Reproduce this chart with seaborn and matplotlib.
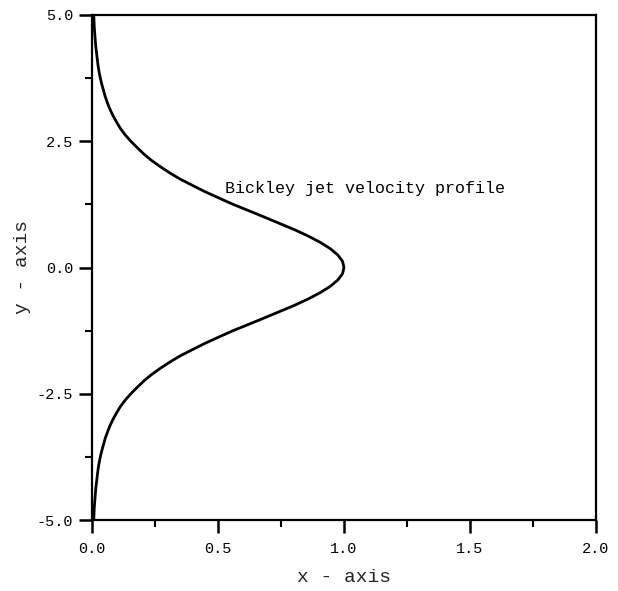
import matplotlib
matplotlib.use("Agg")
import matplotlib.pyplot as plt
from matplotlib.ticker import MultipleLocator, FormatStrFormatter
import seaborn as sns
import pandas as pd

# Values (upper half, y >= 0)
y_upper = [0.0, 0.125, 0.25, 0.375, 0.5, 0.625, 0.75, 0.875, 1.0, 1.125,
           1.25, 1.375, 1.5, 1.625, 1.75, 1.875, 2.0, 2.125, 2.25, 2.375,
           2.5, 2.625, 2.75, 2.875, 3.0, 3.125, 3.25, 3.375, 3.5, 3.625,
           3.75, 3.875, 4.0, 4.125, 4.25, 4.375, 4.5, 4.625, 4.75, 4.875, 5.0]
x_upper = [1.000, 0.994, 0.975, 0.945, 0.905, 0.857, 0.803, 0.743, 0.683, 0.622,
           0.560, 0.504, 0.449, 0.399, 0.350, 0.308, 0.270, 0.235, 0.205, 0.179,
           0.154, 0.132, 0.113, 0.098, 0.084, 0.072, 0.062, 0.053, 0.046, 0.039,
           0.033, 0.028, 0.024, 0.021, 0.018, 0.015, 0.013, 0.011, 0.009, 0.008, 0.007]
# Lower half (y <= 0), read the same way
y_lower = [-v for v in y_upper[::-1]]
x_lower = x_upper[::-1]

annotation = "Bickley jet velocity profile"
x_label = "x - axis"
y_label = "y - axis"

df = pd.DataFrame({"x": x_lower + x_upper[1:], "y": y_lower + y_upper[1:]})

sns.set_style("ticks")
plt.rcParams["font.family"] = ["Liberation Mono", "DejaVu Sans Mono"]

fig = plt.figure(figsize=(6.18, 5.91), dpi=100)
ax = fig.add_axes([92/618, 1-520/591, (596-92)/618, (520-15)/591])

sns.lineplot(data=df, x="x", y="y", sort=False, estimator=None,
             color="black", linewidth=2.0, ax=ax)

ax.set_xlim(0, 2.0)
ax.set_ylim(-5, 5)
ax.xaxis.set_major_locator(MultipleLocator(0.5))
ax.xaxis.set_minor_locator(MultipleLocator(0.25))
ax.yaxis.set_major_locator(MultipleLocator(2.5))
ax.yaxis.set_minor_locator(MultipleLocator(1.25))
ax.xaxis.set_major_formatter(FormatStrFormatter("%.1f"))
ax.yaxis.set_major_formatter(FormatStrFormatter("%.1f"))

for s in ax.spines.values():
    s.set_linewidth(1.6)
    s.set_color("black")
    s.set_visible(True)

ax.tick_params(which="major", direction="out", length=9.5, width=1.8,
               labelsize=11, colors="black")
ax.tick_params(which="minor", direction="out", length=4.8, width=1.5, colors="black")
ax.tick_params(axis="x", which="major", pad=6)
ax.tick_params(axis="y", which="major", pad=4)

ax.set_xlabel(x_label, fontsize=14, labelpad=10)
ax.set_ylabel(y_label, fontsize=14, labelpad=4)

ax.text(0.528, 1.57, annotation, fontsize=12, ha="left", va="center", color="black")

fig.savefig("out.png", dpi=100, facecolor="white")
